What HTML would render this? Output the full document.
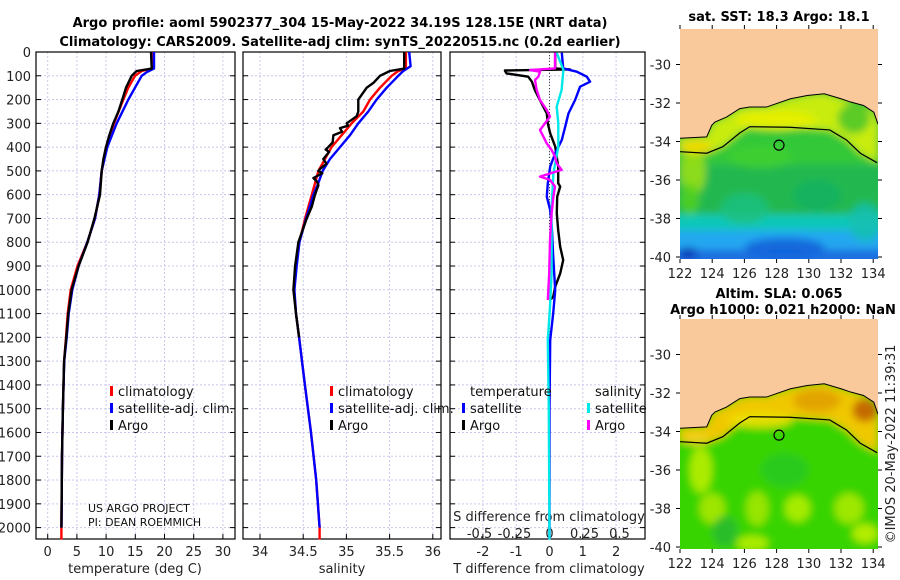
<!DOCTYPE html>
<html><head><meta charset="utf-8"><style>
html,body{margin:0;padding:0;background:#fff}
svg{display:block;font-family:"DejaVu Sans","Liberation Sans",sans-serif}
</style></head><body>
<svg id="fig" width="900" height="580" viewBox="0 0 900 580" xmlns="http://www.w3.org/2000/svg">
<defs><filter id="blur" x="-10%" y="-10%" width="120%" height="120%"><feGaussianBlur stdDeviation="4"/></filter></defs>
<g id="titles" font-weight="bold" font-size="13" text-anchor="middle" fill="#000">
<text x="340" y="27">Argo profile: aoml 5902377_304 15-May-2022 34.19S 128.15E (NRT data)</text>
<text x="340" y="46">Climatology: CARS2009. Satellite-adj clim: synTS_20220515.nc (0.2d earlier)</text>
</g>
<g id="plots"></g>
<g id="maps"></g>
</svg>
<script>
// ---------- DATA ----------
const depthTicks = [0,100,200,300,400,500,600,700,800,900,1000,1100,1200,1300,1400,1500,1600,1700,1800,1900,2000];
const tTickVals = [0,5,10,15,20,25,30];
const sTickVals = [34,34.5,35,35.5,36];
const sTickLabels = ["34","34.5","35","35.5","36"];
const dTickVals = [-2,-1,0,1,2];
const dsTickLabels = ["-0.5","-0.25","0","0.25","0.5"];
const dsTickVals = [-0.5,-0.25,0,0.25,0.5];

// temperature profiles [depth, degC]
const tempArgo = [[0,17.69],[70,17.8],[80,15.23],[100,14.38],[150,13.41],[200,12.78],[250,12.1],[300,11.24],[350,10.55],[400,9.98],[450,9.53],[500,9.24],[600,8.96],[700,7.99],[800,6.84],[900,5.29],[1000,4.1],[1100,3.53],[1200,3.19],[1300,2.8],[1500,2.6],[1700,2.45],[2000,2.35]];
const tempClim = [[0,17.8],[70,17.8],[80,16.09],[100,14.95],[150,13.8],[200,12.95],[300,11.35],[400,9.98],[500,9.24],[600,8.84],[700,8.1],[800,6.78],[900,5.1],[1000,3.94],[1100,3.42],[1200,3.13],[1300,2.8],[1500,2.6],[1700,2.45],[2000,2.35],[2050,2.35]];
const tempSat = [[0,18.2],[70,18.2],[85,16.95],[100,16.09],[150,14.95],[200,13.8],[300,11.81],[400,10.21],[500,9.24],[600,8.84],[700,8.1],[800,6.78],[900,5.29],[1000,4.22],[1100,3.59],[1200,3.25],[1300,2.82],[1500,2.6],[1700,2.45],[2000,2.37]];
// salinity profiles [depth, psu]
const salArgo = [[0,35.669],[70,35.669],[80,35.504],[100,35.389],[130,35.312],[150,35.235],[200,35.138],[250,35.138],[270,35.119],[300,35.003],[310,35.02],[320,34.926],[335,34.95],[350,34.849],[380,34.84],[400,34.791],[410,34.76],[420,34.8],[450,34.733],[470,34.77],[490,34.70],[500,34.676],[510,34.72],[530,34.618],[545,34.66],[560,34.676],[600,34.637],[650,34.599],[700,34.541],[800,34.444],[900,34.406],[1000,34.387],[1100,34.417],[1200,34.452]];
const salClim = [[0,35.689],[70,35.689],[80,35.601],[100,35.524],[150,35.389],[200,35.273],[250,35.196],[300,35.061],[400,34.829],[500,34.676],[600,34.599],[700,34.522],[800,34.456],[900,34.417],[1000,34.395],[1100,34.417],[1200,34.452],[1400,34.52],[1600,34.59],[1800,34.65],[2000,34.69],[2050,34.69]];
const salSat = [[0,35.727],[60,35.743],[80,35.658],[100,35.601],[150,35.466],[200,35.35],[250,35.254],[300,35.138],[350,35.042],[400,34.926],[450,34.81],[500,34.726],[550,34.676],[600,34.618],[700,34.533],[800,34.456],[900,34.425],[1000,34.398],[1100,34.417],[1200,34.452],[1400,34.52],[1600,34.59],[1800,34.65],[2000,34.69]];
// differences from climatology
const dTArgo = [[3,0.17],[69,0.17],[73,0.62],[78,-1.34],[90,-1.29],[104,-0.64],[125,-0.53],[160,-0.44],[202,-0.29],[258,-0.08],[300,-0.05],[342,0.02],[398,0.17],[482,0.26],[552,0.26],[566,0.32],[608,0.23],[679,0.22],[749,0.26],[819,0.32],[875,0.41],[931,0.32],[987,0.17],[1029,0.11],[1043,0.02]];
const dTSat = [[3,0.37],[69,0.41],[83,0.82],[104,1.12],[125,1.22],[146,0.92],[202,0.77],[258,0.57],[314,0.47],[370,0.37],[426,0.17],[482,0.02],[552,-0.05],[608,-0.08],[665,0.02],[735,0.07],[861,0.11],[1001,0.17],[1099,0.11],[1211,0.02],[1500,0],[2050,0]];
const dSArgo = [[3,0.041],[69,0.041],[76,-0.146],[83,-0.071],[104,-0.084],[118,-0.109],[160,-0.096],[202,-0.071],[244,-0.021],[272,0.004],[328,-0.071],[356,-0.046],[384,-0.021],[412,0.016],[440,0.041],[468,0.054],[496,0.091],[524,-0.071],[538,0.004],[566,0.041],[608,0.029],[679,0.016],[791,0.004],[931,-0.002],[1043,-0.013]];
const dSSat = [[3,0.054],[76,0.104],[160,0.091],[230,0.054],[300,0.066],[398,0.066],[510,0.029],[650,0.016],[791,0.016],[931,0.016],[1071,0.004],[1211,-0.013],[1500,-0.005],[2050,0]];

// map geography [lon, lat]
const coastLine = [[122,-33.83],[123.66,-33.76],[123.97,-33.16],[124.17,-32.99],[124.89,-32.73],[125.71,-32.29],[126.33,-32.21],[127.37,-32.21],[128.86,-31.78],[129.9,-31.61],[130.96,-31.52],[132,-31.78],[132.6,-31.95],[133.4,-32.13],[134.04,-32.48],[134.3,-33.1]];
const isobath = [[122,-34.53],[123.66,-34.61],[124.66,-34.27],[125.71,-33.56],[126.33,-33.23],[128.8,-33.26],[131.3,-33.4],[132.34,-33.92],[133.2,-34.61],[134.24,-35.1]];
const argoPos = [128.15,-34.19];
const lonTicks = [122,124,126,128,130,132,134];
const latTicks = [-30,-32,-34,-36,-38,-40];

// ---------- helpers ----------
const NS = "http://www.w3.org/2000/svg";
function mk(tag, attrs, parent){const e=document.createElementNS(NS,tag);for(const k in attrs)e.setAttribute(k,attrs[k]);parent.appendChild(e);return e;}
const plots = document.getElementById('plots');
const Y0 = 52, PXPER = 0.2378, YBOT = 539;
function yD(d){return Y0 + d*PXPER;}

const panels = [
 {name:'temperature-panel', x0:36, x1:235, sx:v=>47.7+v*5.84},
 {name:'salinity-panel', x0:243, x1:441, sx:v=>260+(v-34)*86.4},
 {name:'difference-panel', x0:450, x1:645, sx:v=>549.5+v*33.3}
];
const sdx = v=>549.5+v*133.3;

panels.forEach((p,i)=>{
  const g = mk('g',{},plots);
  
  
  let vg = i===0?tTickVals:(i===1?sTickVals:dTickVals);
  vg.forEach(v=>{const x=p.sx(v);const l=mk('line',{x1:x,x2:x,y1:Y0,y2:YBOT,stroke:'#c8c8ee','stroke-width':1,'stroke-dasharray':'2,2'},g);
    });
  depthTicks.forEach(d=>{const y=yD(d);const l=mk('line',{x1:p.x0,x2:p.x1,y1:y,y2:y,stroke:'#c8c8ee','stroke-width':1,'stroke-dasharray':'2,2'},g);
    
    mk('line',{x1:p.x0,x2:p.x0+5,y1:y,y2:y,stroke:'#000'},g);
    mk('line',{x1:p.x1-5,x2:p.x1,y1:y,y2:y,stroke:'#000'},g);
  });
  const fr = mk('rect',{x:p.x0,y:Y0,width:p.x1-p.x0,height:YBOT-Y0,fill:'none',stroke:'#000','stroke-width':1.2},g);
  
});
depthTicks.forEach(d=>{const t=mk('text',{x:31,y:yD(d)+5,'text-anchor':'end','font-size':13,fill:'#222'},plots);t.textContent=d;
  });
function xlab(x,txt,y){const t=mk('text',{x:x,y:y,'text-anchor':'middle','font-size':13,fill:'#222'},plots);t.textContent=txt;
  return t;}
tTickVals.forEach(v=>{xlab(panels[0].sx(v),String(v),556);mk('line',{x1:panels[0].sx(v),x2:panels[0].sx(v),y1:YBOT,y2:YBOT-5,stroke:'#000'},plots);});
sTickVals.forEach((v,k)=>{xlab(panels[1].sx(v),sTickLabels[k],556);mk('line',{x1:panels[1].sx(v),x2:panels[1].sx(v),y1:YBOT,y2:YBOT-5,stroke:'#000'},plots);});
dTickVals.forEach(v=>{xlab(panels[2].sx(v),String(v),556);mk('line',{x1:panels[2].sx(v),x2:panels[2].sx(v),y1:YBOT,y2:YBOT-5,stroke:'#000'},plots);});
dsTickVals.forEach((v,k)=>{const t=xlab(549.5+v*140,dsTickLabels[k],538);});
[[135,'temperature (deg C)','x-axis-title-temperature'],[342,'salinity','x-axis-title-salinity'],[549,'T difference from climatology','x-axis-title-t-diff']].forEach(a=>{
  const t=mk('text',{x:a[0],y:573,'text-anchor':'middle','font-size':13,fill:'#222'},plots);t.textContent=a[1];
  });
{const t=mk('text',{x:549,y:521,'text-anchor':'middle','font-size':13,fill:'#222'},plots);t.textContent='S difference from climatology';
 }
{const l=mk('line',{x1:549.5,x2:549.5,y1:Y0,y2:YBOT,stroke:'#444','stroke-width':1,'stroke-dasharray':'1,2'},plots);
 }

function series(data, sx, color, name, w){
  const pts = data.map(d=>sx(d[1]).toFixed(1)+','+yD(d[0]).toFixed(1)).join(' ');
  const pl = mk('polyline',{points:pts,fill:'none',stroke:color,'stroke-width':w||2.4,'stroke-linejoin':'round'},plots);
  
  
}
series(tempClim, panels[0].sx, '#ff0000', 'temperature-climatology-line');
series(tempSat, panels[0].sx, '#0000ff', 'temperature-satellite-line');
series(tempArgo, panels[0].sx, '#000000', 'temperature-argo-line');
series(salClim, panels[1].sx, '#ff0000', 'salinity-climatology-line');
series(salSat, panels[1].sx, '#0000ff', 'salinity-satellite-line');
series(salArgo, panels[1].sx, '#000000', 'salinity-argo-line');
series(dTArgo, panels[2].sx, '#000000', 't-diff-argo-line');
series(dTSat, panels[2].sx, '#0000ff', 't-diff-satellite-line');
series(dSSat, sdx, '#00e8e8', 's-diff-satellite-line');
series(dSArgo, sdx, '#ff00ff', 's-diff-argo-line');

function legend(x,y,color,txt,name){
  const g=mk('g',{},plots);
  
  
  if(color) mk('rect',{x:x-8,y:y-10,width:3,height:10,fill:color},g);
  const t=mk('text',{x:x,y:y,'font-size':13,fill:'#111'},g);t.textContent=txt;
}
legend(118,396,'#ff0000','climatology','legend-climatology');
legend(118,413,'#0000ff','satellite-adj. clim.','legend-satellite-adj');
legend(118,430,'#000','Argo','legend-argo');
legend(338,396,'#ff0000','climatology','legend-climatology-2');
legend(338,413,'#0000ff','satellite-adj. clim.','legend-satellite-adj-2');
legend(338,430,'#000','Argo','legend-argo-2');
legend(470,396,null,'temperature','legend-temperature-header');
legend(470,413,'#0000ff','satellite','legend-t-satellite');
legend(470,430,'#000','Argo','legend-t-argo');
legend(595,396,null,'salinity','legend-salinity-header');
legend(595,413,'#00e8e8','satellite','legend-s-satellite');
legend(595,430,'#ff00ff','Argo','legend-s-argo');
{const t=mk('text',{x:88,y:512,'font-size':11,fill:'#111'},plots);t.textContent='US ARGO PROJECT';
 const t2=mk('text',{x:88,y:526,'font-size':11,fill:'#111'},plots);t2.textContent='PI: DEAN ROEMMICH';}

// ---------- maps ----------
const maps = document.getElementById('maps');
const MX0=680, MX1=878, LPX=16.1, LATPX=19.25;
function mapXY(lon,lat,top30){return [MX0+(lon-122)*LPX, top30-(lat+30)*LATPX];}
function drawMap(mi, top, y30, titles, palette){
  const g=mk('g',{},maps);
  
  
  const H=230;
  const cid='clip'+mi;
  const cp=mk('clipPath',{id:cid},g);mk('rect',{x:MX0,y:top,width:MX1-MX0,height:H},cp);
  const inner=mk('g',{'clip-path':'url(#'+cid+')'},g);
  const soft=mk('g',{filter:'url(#blur)'},inner);
  palette.bands.forEach(b=>{
    const y1=mapXY(122,b[0],y30)[1], y2=mapXY(122,b[1],y30)[1];
    mk('rect',{x:MX0-20,y:y1,width:MX1-MX0+40,height:y2-y1,fill:b[2]},soft);
  });
  palette.blobs.forEach(b=>{const p=mapXY(b[0],b[1],y30);mk('ellipse',{cx:p[0],cy:p[1],rx:b[2]*LPX,ry:b[3]*LATPX,fill:b[4],opacity:0.85},soft);});
  const shelf = coastLine.map(c=>mapXY(c[0],c[1],y30)).concat(isobath.slice().reverse().map(c=>mapXY(c[0],c[1],y30)));
  mk('polygon',{points:shelf.map(p=>p.join(',')).join(' '),fill:palette.shelf},soft);
  palette.shelfBlobs.forEach(b=>{const p=mapXY(b[0],b[1],y30);mk('ellipse',{cx:p[0],cy:p[1],rx:b[2]*LPX,ry:b[3]*LATPX,fill:b[4],opacity:0.9},soft);});
  const land=[[MX0,top]].concat(coastLine.map(c=>mapXY(c[0],c[1],y30))).concat([[MX1+2,mapXY(134.3,-33.1,y30)[1]],[MX1+2,top]]);
  const lp=mk('polygon',{points:land.map(p=>p.join(',')).join(' '),fill:'#f9c99b'},inner);
  
  const cl=mk('polyline',{points:coastLine.map(c=>mapXY(c[0],c[1],y30).join(',')).join(' '),fill:'none',stroke:'#000','stroke-width':1},inner);
  
  const ib=mk('polyline',{points:isobath.map(c=>mapXY(c[0],c[1],y30).join(',')).join(' '),fill:'none',stroke:'#000','stroke-width':1.2},inner);
  
  const ap=mapXY(argoPos[0],argoPos[1],y30);
  const c=mk('circle',{cx:ap[0],cy:ap[1],r:5,fill:'none',stroke:'#000','stroke-width':1.2},inner);
  
  lonTicks.forEach(l=>{const x=mapXY(l,-30,y30)[0];
    mk('line',{x1:x,x2:x,y1:top+H,y2:top+H+4,stroke:'#000'},g);mk('line',{x1:x,x2:x,y1:top,y2:top-4,stroke:'#000'},g);
    const t=mk('text',{x:x,y:top+H+19,'text-anchor':'middle','font-size':13,fill:'#222'},g);t.textContent=l;
    });
  latTicks.forEach(l=>{const y=mapXY(122,l,y30)[1];
    mk('line',{x1:MX0,x2:MX0-4,y1:y,y2:y,stroke:'#000'},g);mk('line',{x1:MX1,x2:MX1+4,y1:y,y2:y,stroke:'#000'},g);
    const t=mk('text',{x:MX0-9,y:y+5,'text-anchor':'end','font-size':13,fill:'#222'},g);t.textContent=l;
    });
  titles.forEach(tt=>{const t=mk('text',{x:tt[0],y:tt[1],'text-anchor':'middle','font-size':13,'font-weight':'bold',fill:'#000'},g);t.textContent=tt[2];
    });
}
drawMap(0,29,64.5,[[779,21,'sat. SST: 18.3 Argo: 18.1','sst-map-title']],{
  bands:[[-28,-35.2,'#30c838'],[-35.2,-37.8,'#20b850'],[-37.8,-38.6,'#10c8b8'],[-38.6,-39.6,'#20a8f0'],[-39.6,-41,'#1a70e0']],
  blobs:[[122.8,-35.6,0.8,1.2,'#a0e010'],[122.6,-37,0.6,0.8,'#50d020'],[128.5,-39.5,2.5,0.5,'#1060d8'],[133.5,-38.2,1,1,'#18c0b0'],[126,-37.5,1.5,0.8,'#20c080'],[130.5,-36.8,1.5,0.8,'#18b060'],[122.5,-39.8,0.6,0.3,'#0830b0'],[127,-34.8,2,0.6,'#40d030']],
  shelf:'#c8ec10',
  shelfBlobs:[[123,-34.3,1,0.35,'#f0d800'],[128,-32.9,2.5,0.5,'#e8f000'],[132.8,-32.8,1,0.8,'#50c828']]
});
drawMap(1,319,354.5,[[779,298,'Altim. SLA: 0.065','sla-map-title-1'],[783,314,'Argo h1000: 0.021 h2000: NaN','sla-map-title-2']],{
  bands:[[-28,-41,'#38d400']],
  blobs:[[123.3,-36,0.7,1.2,'#c0ee00'],[124,-38,0.8,0.8,'#b0e800'],[126.8,-38,0.7,0.9,'#a8e800'],[129.3,-38,0.8,0.7,'#b8ee00'],[132.5,-38,0.9,0.8,'#b0ea00'],[133.5,-39.3,0.8,0.5,'#c8f000'],[126.5,-39.8,1,0.4,'#c0ee00'],[128.5,-36,1.5,0.9,'#28c820'],[124.8,-39.2,0.8,0.8,'#28b830']],
  shelf:'#f0c800',
  shelfBlobs:[[127,-33.4,2,0.4,'#f0e000'],[130.5,-32.4,1.5,0.6,'#e0a000'],[133.5,-32.9,0.8,0.6,'#c06000'],[123,-34.4,0.8,0.3,'#f0d020']]
});
{const t=mk('text',{x:895,y:444,'text-anchor':'middle','font-size':13,fill:'#222',transform:'rotate(-90 895 444)'},maps);
 t.textContent='©IMOS 20-May-2022 11:39:31';}
</script>
</body></html>
